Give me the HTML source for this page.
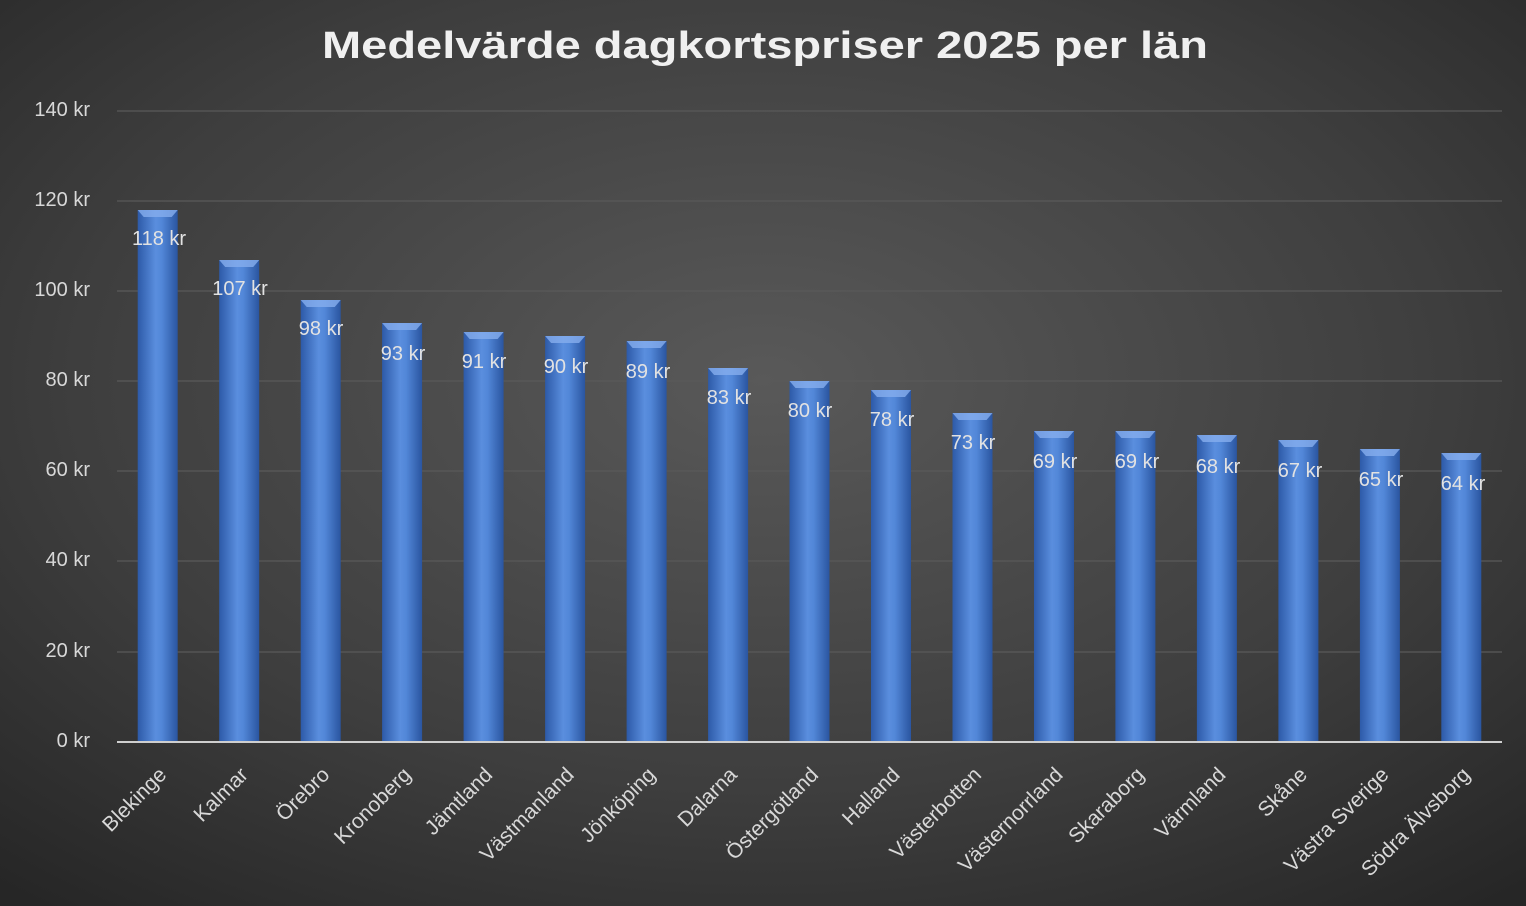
<!DOCTYPE html>
<html><head><meta charset="utf-8"><style>
html,body{margin:0;padding:0;background:#333}
svg{display:block}
text{font-family:"Liberation Sans",sans-serif}
</style></head><body>
<svg width="1526" height="906" viewBox="0 0 1526 906" xmlns="http://www.w3.org/2000/svg">
<defs>
<radialGradient id="bg" cx="50%" cy="42%" r="75%">
<stop offset="0" stop-color="#595959"/>
<stop offset="0.6" stop-color="#3e3e3e"/>
<stop offset="1" stop-color="#262626"/>
</radialGradient>
<linearGradient id="bar" x1="0" x2="1" y1="0" y2="0">
<stop offset="0" stop-color="#2d5aa8"/>
<stop offset="0.45" stop-color="#5a8ede"/>
<stop offset="0.6" stop-color="#5287d8"/>
<stop offset="1" stop-color="#2a55a0"/>
</linearGradient>
<symbol id="cap" viewBox="0 0 40 7" preserveAspectRatio="none"><polygon points="0,0 40,0 34,7 6,7" fill="#86aeee" opacity="0.8"/></symbol>
</defs>
<rect width="1526" height="906" fill="url(#bg)"/>
<text x="322" y="58" textLength="886" lengthAdjust="spacingAndGlyphs" font-size="38" font-weight="bold" fill="#f0f0f0">Medelvärde dagkortspriser 2025 per län</text>
<g stroke="#5a5a5a" stroke-width="1.2">
<line x1="117" y1="111" x2="1502" y2="111"/>
<line x1="117" y1="201" x2="1502" y2="201"/>
<line x1="117" y1="291" x2="1502" y2="291"/>
<line x1="117" y1="381" x2="1502" y2="381"/>
<line x1="117" y1="471" x2="1502" y2="471"/>
<line x1="117" y1="561" x2="1502" y2="561"/>
<line x1="117" y1="652" x2="1502" y2="652"/>
</g>
<g font-size="20" fill="#d8d8d8" text-anchor="end">
<text x="90" y="116">140 kr</text>
<text x="90" y="206">120 kr</text>
<text x="90" y="296">100 kr</text>
<text x="90" y="386">80 kr</text>
<text x="90" y="476">60 kr</text>
<text x="90" y="566">40 kr</text>
<text x="90" y="657">20 kr</text>
<text x="90" y="747">0 kr</text>
</g>
<g fill="url(#bar)">
<rect x="137.7" y="210" width="40" height="532"/>
<rect x="219.2" y="260" width="40" height="482"/>
<rect x="300.7" y="300" width="40" height="442"/>
<rect x="382.1" y="323" width="40" height="419"/>
<rect x="463.6" y="332" width="40" height="410"/>
<rect x="545.1" y="336" width="40" height="406"/>
<rect x="626.6" y="341" width="40" height="401"/>
<rect x="708.1" y="368" width="40" height="374"/>
<rect x="789.5" y="381" width="40" height="361"/>
<rect x="871.0" y="390" width="40" height="352"/>
<rect x="952.5" y="413" width="40" height="329"/>
<rect x="1034.0" y="431" width="40" height="311"/>
<rect x="1115.4" y="431" width="40" height="311"/>
<rect x="1196.9" y="435" width="40" height="307"/>
<rect x="1278.4" y="440" width="40" height="302"/>
<rect x="1359.9" y="449" width="40" height="293"/>
<rect x="1441.3" y="453" width="40" height="289"/>
</g>
<g>
<use href="#cap" x="137.7" y="210" width="40" height="7"/>
<use href="#cap" x="219.2" y="260" width="40" height="7"/>
<use href="#cap" x="300.7" y="300" width="40" height="7"/>
<use href="#cap" x="382.1" y="323" width="40" height="7"/>
<use href="#cap" x="463.6" y="332" width="40" height="7"/>
<use href="#cap" x="545.1" y="336" width="40" height="7"/>
<use href="#cap" x="626.6" y="341" width="40" height="7"/>
<use href="#cap" x="708.1" y="368" width="40" height="7"/>
<use href="#cap" x="789.5" y="381" width="40" height="7"/>
<use href="#cap" x="871.0" y="390" width="40" height="7"/>
<use href="#cap" x="952.5" y="413" width="40" height="7"/>
<use href="#cap" x="1034.0" y="431" width="40" height="7"/>
<use href="#cap" x="1115.4" y="431" width="40" height="7"/>
<use href="#cap" x="1196.9" y="435" width="40" height="7"/>
<use href="#cap" x="1278.4" y="440" width="40" height="7"/>
<use href="#cap" x="1359.9" y="449" width="40" height="7"/>
<use href="#cap" x="1441.3" y="453" width="40" height="7"/>
</g>
<g font-size="20" fill="#e2e2e2" text-anchor="middle">
<text x="159" y="245">118 kr</text>
<text x="240" y="295">107 kr</text>
<text x="321" y="335">98 kr</text>
<text x="403" y="360">93 kr</text>
<text x="484" y="368">91 kr</text>
<text x="566" y="373">90 kr</text>
<text x="648" y="378">89 kr</text>
<text x="729" y="404">83 kr</text>
<text x="810" y="417">80 kr</text>
<text x="892" y="426">78 kr</text>
<text x="973" y="449">73 kr</text>
<text x="1055" y="468">69 kr</text>
<text x="1137" y="468">69 kr</text>
<text x="1218" y="473">68 kr</text>
<text x="1300" y="477">67 kr</text>
<text x="1381" y="486">65 kr</text>
<text x="1463" y="490">64 kr</text>
</g>
<line x1="117" y1="742" x2="1502" y2="742" stroke="#cfcfcf" stroke-width="2"/>
<g font-size="21" fill="#d8d8d8" text-anchor="end">
<text transform="translate(167.7,776) rotate(-45)">Blekinge</text>
<text transform="translate(249.2,776) rotate(-45)">Kalmar</text>
<text transform="translate(330.7,776) rotate(-45)">Örebro</text>
<text transform="translate(412.1,776) rotate(-45)">Kronoberg</text>
<text transform="translate(493.6,776) rotate(-45)">Jämtland</text>
<text transform="translate(575.1,776) rotate(-45)">Västmanland</text>
<text transform="translate(656.6,776) rotate(-45)">Jönköping</text>
<text transform="translate(738.1,776) rotate(-45)">Dalarna</text>
<text transform="translate(819.5,776) rotate(-45)">Östergötland</text>
<text transform="translate(901.0,776) rotate(-45)">Halland</text>
<text transform="translate(982.5,776) rotate(-45)">Västerbotten</text>
<text transform="translate(1064.0,776) rotate(-45)">Västernorrland</text>
<text transform="translate(1145.4,776) rotate(-45)">Skaraborg</text>
<text transform="translate(1226.9,776) rotate(-45)">Värmland</text>
<text transform="translate(1308.4,776) rotate(-45)">Skåne</text>
<text transform="translate(1389.9,776) rotate(-45)">Västra Sverige</text>
<text transform="translate(1471.3,776) rotate(-45)">Södra Älvsborg</text>
</g>
</svg>
</body></html>
